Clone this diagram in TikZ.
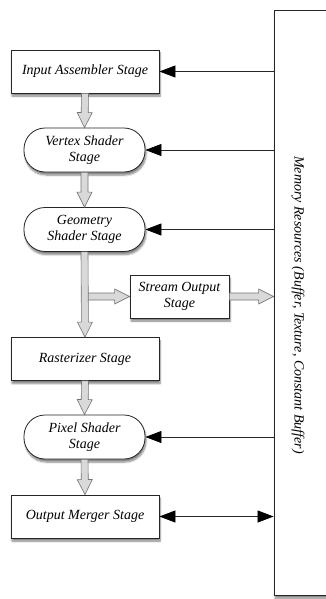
\documentclass[tikz,border=0pt]{standalone}
\usepackage{fontspec}
\setmainfont{Liberation Serif}
\usetikzlibrary{calc}
\usetikzlibrary{arrows.meta}
\usetikzlibrary{shadows.blur}

\tikzset{
  stage/.style={draw=black!85, fill=white, line width=0.8pt,
    minimum width=148pt, minimum height=43pt, align=center,
    font=\fontsize{14}{16}\selectfont\itshape,
    blur shadow={shadow xshift=1pt, shadow yshift=-3pt, shadow blur steps=6, shadow opacity=50}},
  shader/.style={stage, rounded corners=21pt, minimum width=121pt, minimum height=44pt},
  feed/.style={draw=black!85, line width=0.7pt, ->},
  flow/.style={draw=black!55, fill=black!15, line width=0.6pt},
  >={Triangle[length=16pt,width=12pt,color=black]}
}
% hollow block arrow from #1 to #2
\newcommand{\flowarrow}[2]{%
  \coordinate (fh) at ($(#2)!15pt!(#1)$);
  \filldraw[flow] ($(#1)!3.5pt!90:(#2)$) -- ($(fh)!3.5pt!90:(#2)$) -- ($(fh)!7.5pt!90:(#2)$)
    -- (#2) -- ($(fh)!7.5pt!-90:(#2)$) -- ($(fh)!3.5pt!-90:(#2)$) -- ($(#1)!3.5pt!-90:(#2)$) -- cycle;}

\begin{document}
\begin{tikzpicture}[x=1pt,y=1pt]
\useasboundingbox (0,0) rectangle (325,-599);
\coordinate (IA) at (85,-71.5);
\coordinate (VS) at (84.5,-150);
\coordinate (GS) at (84.5,-229.5);
\coordinate (SO) at (179.5,-296.5);
\coordinate (RS) at (85,-359);
\coordinate (PS) at (84.5,-437);
\coordinate (OM) at (85,-516.5);
\coordinate (MR) at (304,-302.5);
\node[draw=black!85, fill=white, line width=0.8pt, minimum width=60pt, minimum height=585pt,
  blur shadow={shadow xshift=1pt, shadow yshift=-3pt, shadow blur steps=6, shadow opacity=50}] (mem) at (MR) {};
\node[rotate=-90, font=\fontsize{14}{16}\selectfont\itshape] (memtext) at (298,-305)
  {Memory Resources (Buffer, Texture, Constant Buffer)};
\node[stage] (ia) at (IA) {Input Assembler Stage};
\node[shader] (vs) at (VS) {Vertex Shader\\Stage};
\node[shader] (gs) at (GS) {Geometry\\Shader Stage};
\node[stage, minimum width=99pt] (so) at (SO) {Stream Output\\Stage};
\node[stage] (rs) at (RS) {Rasterizer Stage};
\node[shader] (ps) at (PS) {Pixel Shader\\Stage};
\node[stage] (om) at (OM) {Output Merger Stage};
% block arrows
\flowarrow{ia.south}{vs.north}
\flowarrow{vs.south}{gs.north}
\coordinate (branch) at (gs.south |- so.west);
\flowarrow{branch}{so.west}
\flowarrow{gs.south}{rs.north}
\coordinate (sotip) at (so.east -| mem.west);
\flowarrow{so.east}{sotip}
\flowarrow{rs.south}{ps.north}
\flowarrow{ps.south}{om.north}
% resource access
\draw[feed] (mem.west |- ia.east) -- (ia.east);
\draw[feed] (mem.west |- vs.east) -- (vs.east);
\draw[feed] (mem.west |- gs.east) -- (gs.east);
\draw[feed] (mem.west |- ps.east) -- (ps.east);
\draw[feed, <->] (om.east) -- (mem.west |- om.east);
\end{tikzpicture}
\end{document}
